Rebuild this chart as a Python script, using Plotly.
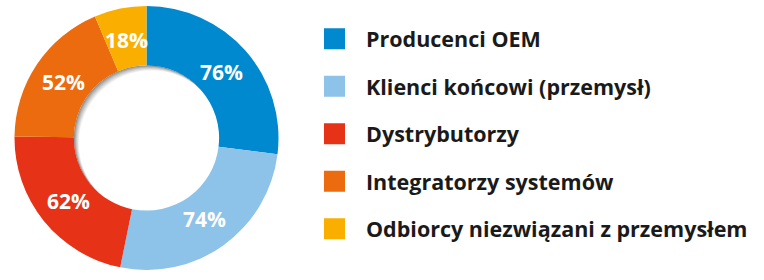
import math
import plotly.graph_objects as go

categories = [
    "Producenci OEM",
    "Klienci końcowi (przemysł)",
    "Dystrybutorzy",
    "Integratorzy systemów",
    "Odbiorcy niezwiązani z przemysłem",
]
values = [76, 74, 62, 52, 18]
colors = ["#0089CF", "#8DC2E9", "#E63318", "#EC6B0E", "#FAAF00"]

W, H = 764, 280
FONT = "Open Sans"

# pie geometry (pixels)
CX, CY, R_OUT, HOLE = 146.5, 138.0, 132.0, 0.55
R_IN = R_OUT * HOLE
R_LAB = 100.0

fig = go.Figure()

fig.add_trace(go.Pie(
    labels=categories,
    values=values,
    textinfo="none",
    marker=dict(colors=colors, line=dict(width=0)),
    hole=HOLE,
    sort=False,
    direction="clockwise",
    rotation=0,
    showlegend=False,
    domain=dict(x=[(CX - R_OUT) / W, (CX + R_OUT) / W],
                y=[(H - CY - R_OUT) / H, (H - CY + R_OUT) / H]),
))

# percentage labels placed on slice bisectors (derived from the values)
total = sum(values)
cum = 0.0
for v in values:
    mid = (cum + v / 2) / total * 2 * math.pi
    cum += v
    px = CX + R_LAB * math.sin(mid)
    py = CY - R_LAB * math.cos(mid)
    fig.add_annotation(
        x=px / W, y=(H - py) / H, xref="paper", yref="paper",
        text=f"{v}%", showarrow=False, xanchor="center", yanchor="middle",
        font=dict(family=FONT, size=21, color="white", weight="bold"),
    )

# soft inner shadow in the hole (stacked offset circles under the ring)
steps = 8
for i in range(steps + 1):
    t = i / steps
    off = 5.0 * t
    g = int(140 + (255 - 140) * (t ** 0.8))
    col = f"rgb({g},{g},{g})"
    x0 = CX - R_IN + off
    y0 = CY - R_IN + off
    fig.add_shape(
        type="circle", xref="paper", yref="paper", layer="below",
        x0=x0 / W, x1=(x0 + 2 * R_IN) / W,
        y0=(H - y0 - 2 * R_IN) / H, y1=(H - y0) / H,
        fillcolor=col, line=dict(width=0),
    )

# legend built as a small xy panel
rows = list(range(len(categories)))
fig.add_trace(go.Scatter(
    x=[10.5] * len(categories),
    y=rows,
    mode="markers",
    marker=dict(symbol="square", size=21, color=colors, line=dict(width=0)),
    xaxis="x2", yaxis="y2",
    showlegend=False,
    hoverinfo="skip",
))

for r, name in zip(rows, categories):
    fig.add_annotation(
        x=40, y=r, xref="x2", yref="y2",
        text=name, showarrow=False,
        xanchor="left", yanchor="middle",
        font=dict(family=FONT, size=21.5, color="#1a1a1a", weight="bold"),
    )

top_px = 38.8 - 23.75
bot_px = 228.7 + 23.75
fig.update_layout(
    width=W, height=H,
    margin=dict(l=0, r=0, t=0, b=0),
    paper_bgcolor="white",
    plot_bgcolor="rgba(0,0,0,0)",
    xaxis2=dict(domain=[324 / W, 1], range=[0, W - 324], visible=False, fixedrange=True),
    yaxis2=dict(domain=[(H - bot_px) / H, (H - top_px) / H], range=[4.5, -0.5],
                visible=False, fixedrange=True, anchor="x2"),
)

fig.write_html("out.html")
